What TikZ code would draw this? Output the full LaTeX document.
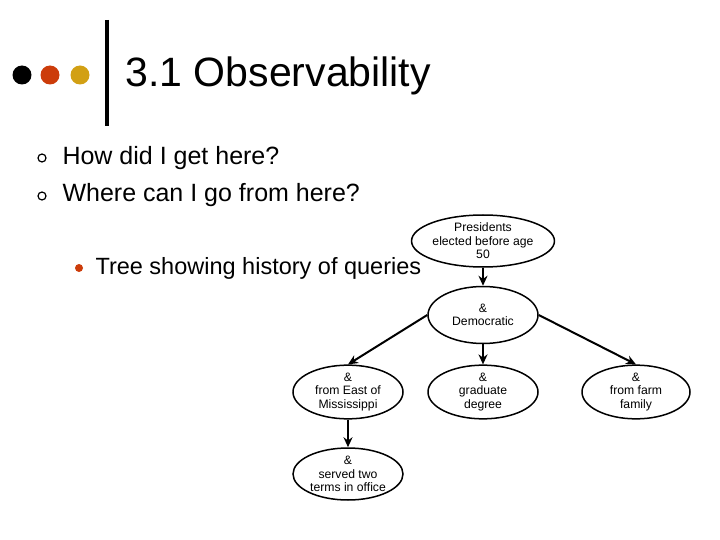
\documentclass[tikz,border=0pt]{standalone}
\usepackage{fontspec}
\setmainfont{Liberation Sans}
\usetikzlibrary{shapes.geometric,arrows.meta}
\definecolor{dred}{RGB}{204,60,10}
\definecolor{dgold}{RGB}{210,160,20}
\begin{document}
\begin{tikzpicture}[x=1pt,y=-1pt,
  ell/.style={ellipse,draw,line width=1.5pt,minimum width=110pt,minimum height=54pt,inner sep=0pt,align=center,font=\fontsize{12.2}{13.5}\selectfont},
  con/.style={line width=2pt,-{Stealth[length=10pt,width=9pt]}}]
\useasboundingbox (0,0) rectangle (720,540);
\fill (22,75) circle (9.5);
\fill[dred] (50,75) circle (9.5);
\fill[dgold] (80,75) circle (9.5);
\draw[line width=4pt] (107,20) -- (107,126);
\node[anchor=west,font=\fontsize{41}{45}\selectfont] (title) at (122,76) {3.1 Observability};
\draw[line width=1.2pt] (42,158) circle (4);
\draw[line width=1.2pt] (42,196) circle (4);
\node[anchor=west,font=\fontsize{25}{28}\selectfont] (b1) at (59,158) {How did I get here?};
\node[anchor=west,font=\fontsize{25}{28}\selectfont] (b2) at (59,195) {Where can I go from here?};
\fill[dred] (79,268) circle (4);
\node[anchor=west,font=\fontsize{23.5}{26}\selectfont] (b3) at (92,268) {Tree showing history of queries};
\node[ell,minimum width=106pt,minimum height=52pt] (p) at (483,241) {Presidents\\elected before age\\50};
\node[ell,minimum height=57pt] (d) at (483,315) {\&\\Democratic};
\node[ell,minimum height=52pt] (e) at (348,392) {\&\\from East of\\Mississippi};
\node[ell,minimum height=52pt] (g) at (483,392) {\&\\graduate\\degree};
\node[ell,minimum width=108pt,minimum height=52pt] (f) at (636,392) {\&\\from farm\\family};
\node[ell,minimum height=52pt] (s) at (348,474) {\&\\served two\\terms in office};
\draw[con] (p) -- (d);
\draw[con] (d) -- (g);
\draw[con] (d.west) -- (e.north);
\draw[con] (d.east) -- (f.north);
\draw[con] (e) -- (s);
\end{tikzpicture}
\end{document}
